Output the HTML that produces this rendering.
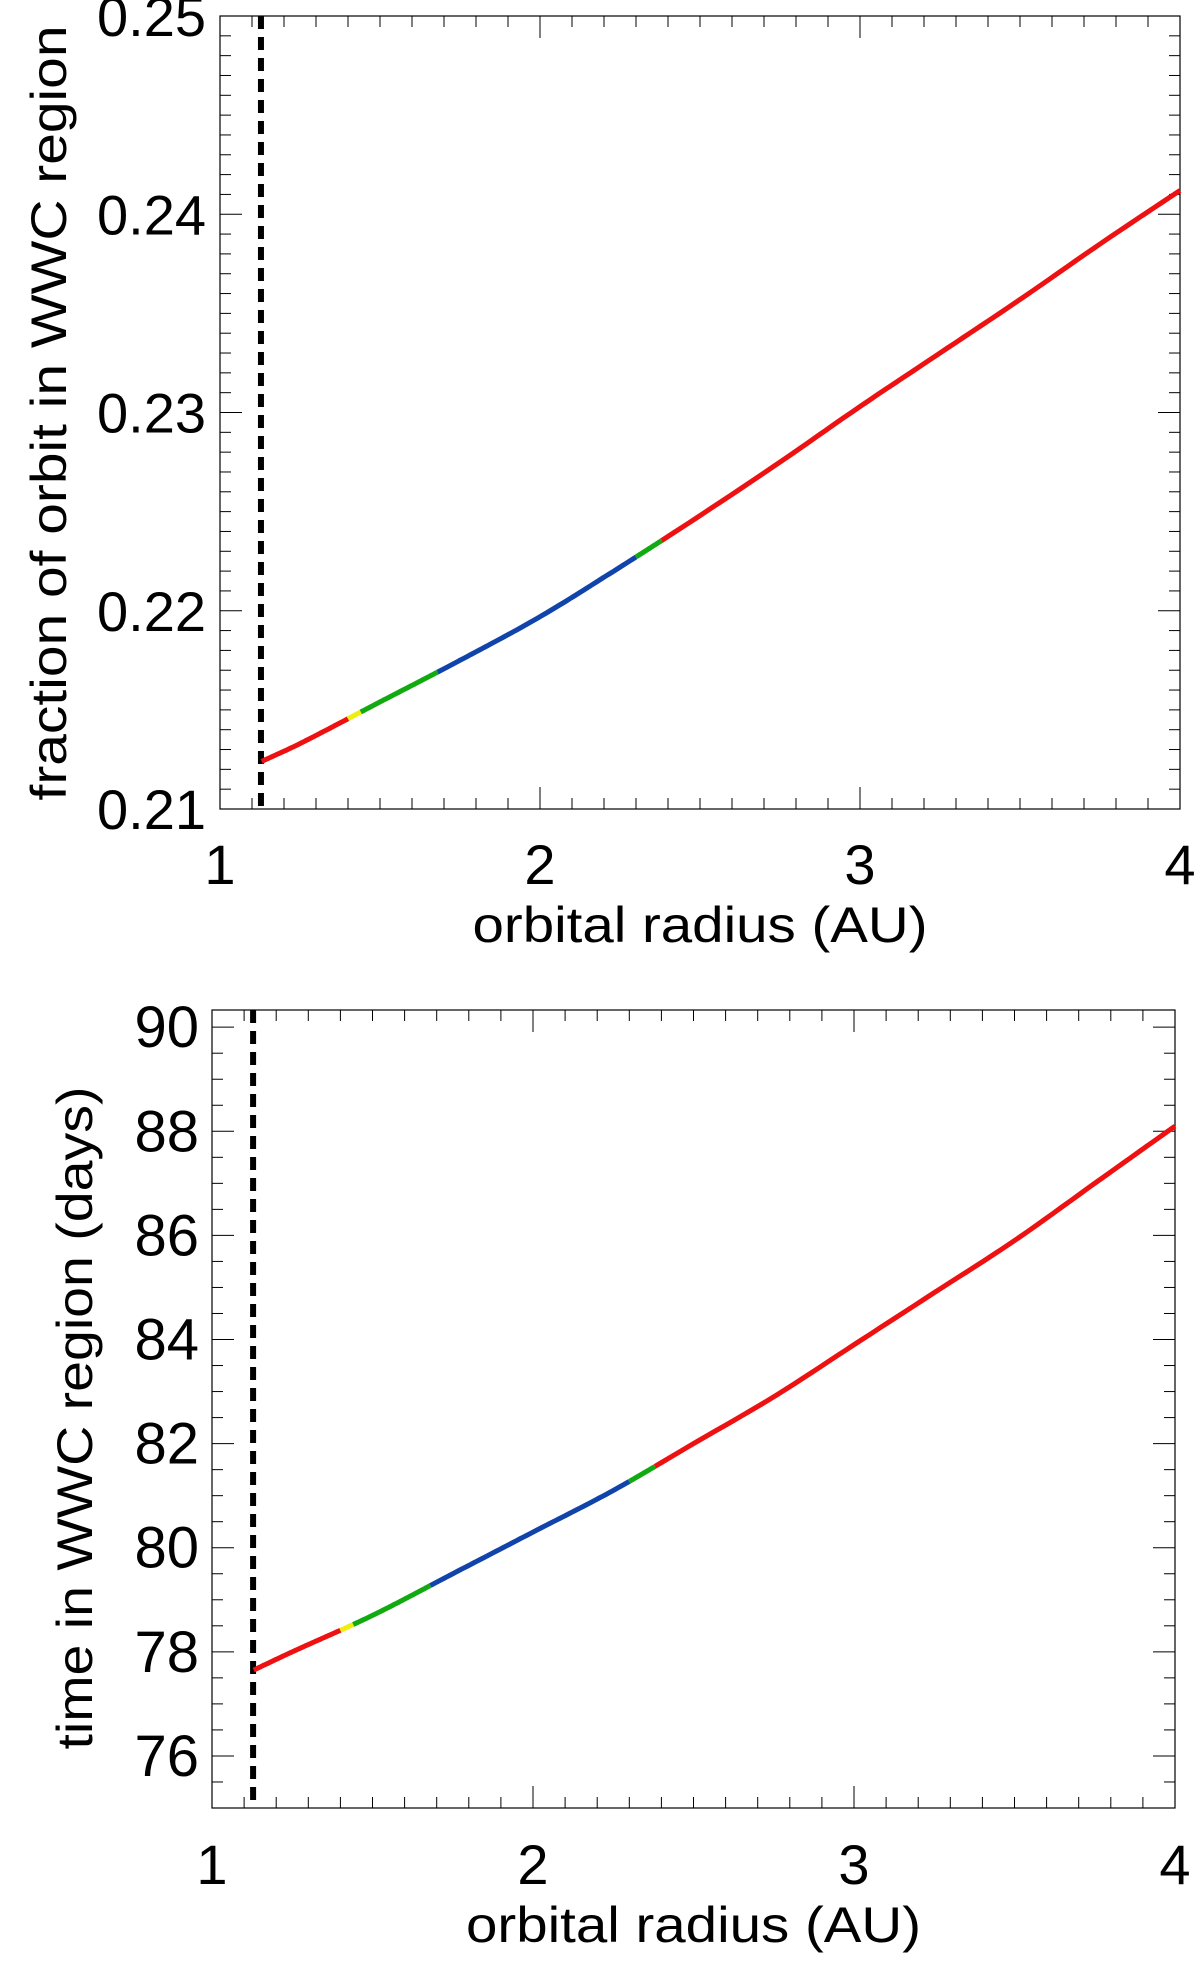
<!DOCTYPE html>
<html><head><meta charset="utf-8"><style>html,body{margin:0;padding:0;background:#fff}svg{display:block}text{font-family:"Liberation Sans",sans-serif;fill:#000}</style></head>
<body>
<svg id="fig" width="1200" height="1967" viewBox="0 0 1200 1967" xmlns="http://www.w3.org/2000/svg"></svg>
<script>
const radii = [1.13,1.25,1.5,1.75,2,2.25,2.5,2.75,3,3.25,3.5,3.75,4];
const fractionValues = [0.2124,0.2133,0.2154,0.2175,0.2197,0.2222,0.2248,0.2275,0.2303,0.2330,0.2357,0.2385,0.2412];
const daysValues = [77.65,78.0,78.7,79.5,80.3,81.1,82.0,82.9,83.9,84.9,85.9,87.0,88.1];
const segmentStarts = [1.13,1.4,1.44,1.68,2.3,2.38];
const segmentEnds = [1.4,1.44,1.68,2.3,2.38,4];
const segmentColors = ['#ee1111','#eeee11','#11aa11','#1144aa','#11aa11','#ee1111'];
const innerEdge = 1.128;
const xTicks = [1,2,3,4];
const fracTicks = ['0.21','0.22','0.23','0.24','0.25'];
const dayTicks = ['76','78','80','82','84','86','88','90'];

const NS='http://www.w3.org/2000/svg';
const svg=document.getElementById('fig');
function mk(tag,attrs,parent){const e=document.createElementNS(NS,tag);for(const k in attrs)e.setAttribute(k,attrs[k]);(parent||svg).appendChild(e);return e;}
function interp(xs,ys,x){
  const n=xs.length;
  let i=0;while(i<n-2&&x>xs[i+1])i++;
  const h=xs[i+1]-xs[i];const t=(x-xs[i])/h;
  const slope=k=>{if(k===0)return (ys[1]-ys[0])/(xs[1]-xs[0]);if(k===n-1)return (ys[n-1]-ys[n-2])/(xs[n-1]-xs[n-2]);return (ys[k+1]-ys[k-1])/(xs[k+1]-xs[k-1]);};
  const m0=slope(i)*h,m1=slope(i+1)*h;
  const t2=t*t,t3=t2*t;
  return (2*t3-3*t2+1)*ys[i]+(t3-2*t2+t)*m0+(-2*t3+3*t2)*ys[i+1]+(t3-t2)*m1;
}

function panel(o){
  const g=mk('g',{});
  
  
  const X=v=>o.L+(v-o.xmin)/(o.xmax-o.xmin)*(o.R-o.L);
  const Y=v=>o.B-(v-o.ymin)/(o.ymax-o.ymin)*(o.B-o.T);
  const frame=mk('rect',{x:o.L,y:o.T,width:o.R-o.L,height:o.B-o.T,fill:'none',stroke:'#000','stroke-width':1.2},g);
  
  
  for(let k=0;k<=30;k++){const v=1+k*0.1;const x=X(v);const len=(k%10===0)?22:11;
    mk('line',{x1:x,y1:o.B,x2:x,y2:o.B-len,stroke:'#000','stroke-width':1},g);
    mk('line',{x1:x,y1:o.T,x2:x,y2:o.T+len,stroke:'#000','stroke-width':1},g);}
  xTicks.forEach(v=>{const t=mk('text',{x:X(v),y:o.xlabY,'font-size':56,'text-anchor':'middle'},g);t.textContent=String(v);
    
    });
  for(let v=o.ymin;v<=o.ymax+1e-9;v+=o.minor){const y=Y(v);const isMaj=Math.abs(Math.round(v/o.major)*o.major-v)<1e-7;const len=isMaj?22:11;
    mk('line',{x1:o.L,y1:y,x2:o.L+len,y2:y,stroke:'#000','stroke-width':1},g);
    mk('line',{x1:o.R,y1:y,x2:o.R-len,y2:y,stroke:'#000','stroke-width':1},g);}
  o.yticks.forEach(s=>{const t=mk('text',{x:o.ylabX,y:Y(parseFloat(s))+20,'font-size':o.yfs,'text-anchor':'end'},g);t.textContent=s;
    
    });
  const d=mk('line',{x1:X(innerEdge),y1:o.T,x2:X(innerEdge),y2:o.B,stroke:'#000','stroke-width':6,'stroke-dasharray':'13 8'},g);
  
  
  segmentStarts.forEach((s,i)=>{const e=segmentEnds[i];const pts=[];const n=60;
    for(let j=0;j<=n;j++){const x=s+(e-s)*j/n;pts.push(X(x).toFixed(1)+','+Y(interp(radii,o.vals,x)).toFixed(1));}
    const p=mk('polyline',{points:pts.join(' '),fill:'none',stroke:segmentColors[i],'stroke-width':5},g);
    
    });
  const xt=mk('text',{x:(o.L+o.R)/2,y:o.xtitleY,'font-size':50,'text-anchor':'middle',textLength:455,lengthAdjust:'spacingAndGlyphs'},g);
  xt.textContent='orbital radius (AU)';
  
  
  const yt=mk('text',{x:0,y:0,'font-size':50,'text-anchor':'middle',textLength:o.ytLen,lengthAdjust:'spacingAndGlyphs',transform:'translate('+o.ytX+','+o.ytY+') rotate(-90)'},g);
  yt.textContent=o.ytitle;
  
  
}
panel({name:'fraction-panel',L:220,R:1180,T:16,B:809,xmin:1,xmax:4,ymin:0.21,ymax:0.25,major:0.01,minor:0.001,yfs:56,
  vals:fractionValues,yticks:fracTicks,ylabX:206,xlabY:884,xtitleY:942,ytitle:'fraction of orbit in WWC region',ytX:66,ytY:413,ytLen:775});
panel({name:'time-panel',L:212,R:1175,T:1010,B:1808,xmin:1,xmax:4,ymin:75,ymax:90.33,major:2,minor:0.5,yfs:58,
  vals:daysValues,yticks:dayTicks,ylabX:199,xlabY:1884,xtitleY:1942,ytitle:'time in WWC region (days)',ytX:92,ytY:1418,ytLen:663});
</script>
</body></html>
